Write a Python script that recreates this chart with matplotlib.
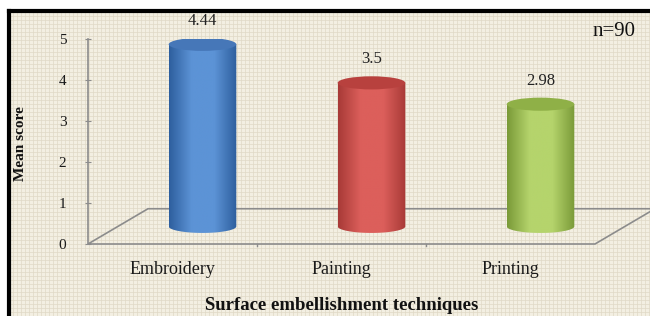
import numpy as np
import matplotlib.pyplot as plt
from matplotlib.patches import Ellipse, Polygon, PathPatch
from matplotlib.path import Path
from matplotlib.colors import LinearSegmentedColormap

# data
techniques = ["Embroidery", "Painting", "Printing"]
mean_scores = [4.44, 3.5, 2.98]
score_labels = ["4.44", "3.5", "2.98"]
y_ticks = [0, 1, 2, 3, 4, 5]

# cylinder colours: dark edge, light middle, top face
shades = [
    ("#2e5f9e", "#5c93d6", "#4677b8"),
    ("#a83a37", "#dc5f5b", "#b8413e"),
    ("#7a9a38", "#b5d46c", "#8fb047"),
]

plt.rcParams['font.family'] = ['Liberation Serif', 'DejaVu Serif']
bg = "#f3efe2"

fig = plt.figure(figsize=(6.5, 3.16), dpi=100)
fig.patch.set_facecolor("white")

# backdrop panel with faint grid texture
back = fig.add_axes([9 / 650, 0, 1 - 9 / 650, 1 - 11 / 316])
back.set_facecolor(bg)
back.set_xlim(0, 641)
back.set_ylim(0, 305)
back.set_xticks(np.arange(0, 641, 4))
back.set_yticks(np.arange(0, 305, 4))
back.grid(True, color="#e0d9c6", lw=0.5)
back.tick_params(length=0, labelbottom=False, labelleft=False)
for s in ["right", "bottom"]:
    back.spines[s].set_visible(False)
for s in ["left", "top"]:
    back.spines[s].set_color("black")
    back.spines[s].set_linewidth(3)

# main axes: x = category index, y = mean score
ax = fig.add_axes([88 / 650, (316 - 244) / 316, 507 / 650, 205 / 316])
ax.patch.set_alpha(0)
ax.set_xlim(-0.5, 2.5)
ax.set_ylim(0, 5)

dx, dy = 0.355, 0.86   # floor depth in data units
half_w = 0.2
eh = 0.16
axis_col = "#8c8c8c"

# floor outline
floor = Polygon([(-0.5, 0), (2.5, 0), (2.5 + dx, dy), (-0.5 + dx, dy)],
                closed=True, fill=False, edgecolor=axis_col, lw=1.2, clip_on=False)
ax.add_patch(floor)

for s in ["top", "right", "bottom"]:
    ax.spines[s].set_visible(False)
ax.spines["left"].set_color(axis_col)
ax.spines["left"].set_linewidth(1.2)
ax.set_yticks(y_ticks)
ax.set_yticklabels([str(t) for t in y_ticks], fontsize=11, color="#1a1a1a")
ax.tick_params(axis="y", direction="inout", length=5, color=axis_col, pad=13)
ax.set_xticks([])
for xb in [0.5, 1.5]:
    ax.plot([xb, xb], [0, -0.06], color=axis_col, lw=1, clip_on=False)

for i, (v, lab) in enumerate(zip(mean_scores, score_labels)):
    cx = i + dx / 2
    base = dy / 2
    top = v + dy / 2
    x0, x1 = cx - half_w, cx + half_w
    dark, light, topc = shades[i]

    # body outline: rectangle + lower half ellipse
    t = np.linspace(np.pi, 2 * np.pi, 60)
    verts = [(x0, top)] + [(cx + half_w * np.cos(a), base + eh * np.sin(a)) for a in t] + [(x1, top), (x0, top)]
    body = PathPatch(Path(verts), facecolor="none", edgecolor="none")
    ax.add_patch(body)
    cmap = LinearSegmentedColormap.from_list("c%d" % i, [dark, light, light, dark])
    grad = np.linspace(0, 1, 200).reshape(1, -1)
    im = ax.imshow(grad, cmap=cmap, extent=[x0, x1, base - eh, top],
                   aspect="auto", origin="lower", zorder=3, interpolation="bilinear")
    im.set_clip_path(body)

    ax.add_patch(Ellipse((cx, top), 2 * half_w, 2 * eh, facecolor=topc,
                         edgecolor="none", zorder=4))

    ax.text(cx, top + 0.38, lab, ha="center", va="bottom", fontsize=12, color="#222222")

    ax.text(i, -0.42, techniques[i], ha="center", va="top", fontsize=13, color="#1a1a1a")

ax.set_xlabel("Surface embellishment techniques", fontsize=13.5, fontweight="bold",
              labelpad=38, color="#111111")
ax.set_ylabel("Mean score", fontsize=11, fontweight="bold", color="#111111")
ax.yaxis.set_label_coords(-0.12, 0.49)

fig.text(614 / 650, 1 - 31 / 316, "n=90", ha="center", va="center", fontsize=15, color="#111111")

fig.savefig("out.png", dpi=100)
